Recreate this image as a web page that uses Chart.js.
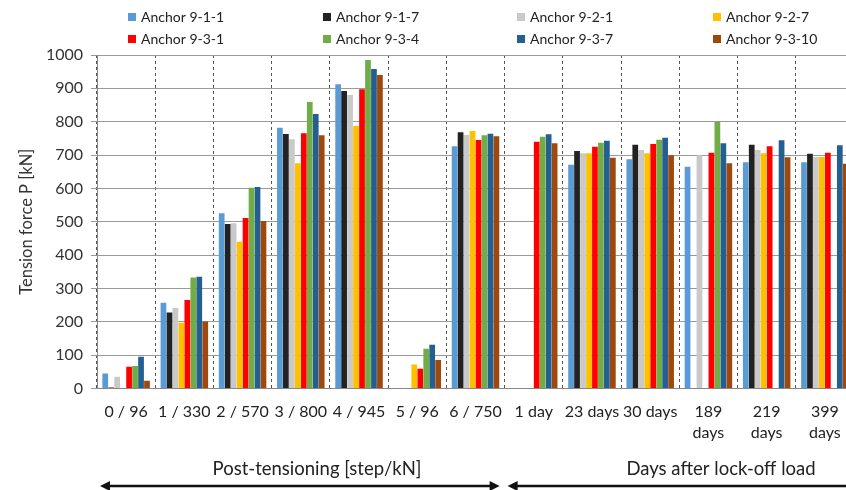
<!DOCTYPE html>
<html>
<head>
<meta charset="utf-8">
<script src="https://cdn.jsdelivr.net/npm/chart.js@4.4.1/dist/chart.umd.min.js"></script>
<style>
  html, body { margin: 0; padding: 0; overflow: hidden; background: #fff; }
  #wrap { width: 880px; height: 490px; }
</style>
</head>
<body>
<div id="wrap"><canvas id="myChart"></canvas></div>
<script>
// categories: post-tensioning steps, then days after lock-off
const categories = ['0 / 96', '1 / 330', '2 / 570', '3 / 800', '4 / 945', '5 / 96', '6 / 750',
  '1 day', '23 days', '30 days', ['189', 'days'], ['219', 'days'], ['399', 'days']];

// tension force P [kN] per anchor (null = no reading)
const anchor911 = [45, 257, 525, 782, 912, null, 726, null, 671, 687, 665, 678, 678];
const anchor917 = [3, 228, 493, 763, 892, null, 768, null, 712, 731, null, 731, 704];
const anchor921 = [35, 241, 495, 747, 880, null, 760, null, 705, 715, 699, 715, 694];
const anchor927 = [null, 197, 440, 675, 787, 72, 772, null, 705, 705, null, 705, 694];
const anchor931 = [65, 265, 511, 765, 897, 59, 745, 740, 725, 733, 707, 726, 707];
const anchor934 = [67, 333, 602, 859, 985, 119, 759, 755, 737, 746, 800, null, null];
const anchor937 = [95, 335, 604, 823, 958, 131, 764, 762, 743, 752, 735, 744, 729];
const anchor9310 = [23, 201, 502, 759, 940, 85, 756, 735, 692, 699, 675, 693, 674];

const seriesNames = ['Anchor 9-1-1', 'Anchor 9-1-7', 'Anchor 9-2-1', 'Anchor 9-2-7',
  'Anchor 9-3-1', 'Anchor 9-3-4', 'Anchor 9-3-7', 'Anchor 9-3-10'];
const seriesData = [anchor911, anchor917, anchor921, anchor927, anchor931, anchor934, anchor937, anchor9310];
const seriesColors = ['#5b9bd5', '#222222', '#c9c9c9', '#ffc000', '#ff0000', '#70ad47', '#255e91', '#9e480e'];

const yTicksMin = 0;
const yTicksMax = 1000;
const yTicksStep = 100;

const FONT = 'Lato, "Open Sans", sans-serif';

// legend in a 4 x 2 grid like the original
const gridLegend = {
  id: 'gridLegend',
  afterDraw(chart) {
    const ctx = chart.ctx;
    const colX = [128, 323, 517, 713];
    const rowY = [17, 39];
    ctx.save();
    ctx.font = '14px ' + FONT;
    ctx.textBaseline = 'middle';
    chart.data.datasets.forEach((ds, i) => {
      const x = colX[i % 4];
      const y = rowY[Math.floor(i / 4)];
      ctx.fillStyle = ds.backgroundColor;
      ctx.fillRect(x, y - 4, 8, 8);
      ctx.fillStyle = '#222';
      ctx.fillText(ds.label, x + 13, y);
    });
    ctx.restore();
  }
};

// phase captions and arrows under the x axis
function arrow(ctx, x1, x2, y, headLeft, headRight) {
  ctx.beginPath();
  ctx.moveTo(x1 + (headLeft ? 6 : 0), y);
  ctx.lineTo(x2 - (headRight ? 6 : 0), y);
  ctx.stroke();
  if (headLeft) {
    ctx.beginPath();
    ctx.moveTo(x1, y); ctx.lineTo(x1 + 10, y - 5); ctx.lineTo(x1 + 10, y + 5); ctx.closePath(); ctx.fill();
  }
  if (headRight) {
    ctx.beginPath();
    ctx.moveTo(x2, y); ctx.lineTo(x2 - 10, y - 5); ctx.lineTo(x2 - 10, y + 5); ctx.closePath(); ctx.fill();
  }
}

const phases = {
  id: 'phases',
  afterDraw(chart) {
    const ctx = chart.ctx;
    const xs = chart.scales.x;
    const split = (xs.getPixelForValue(6) + xs.getPixelForValue(7)) / 2;
    ctx.save();
    ctx.fillStyle = '#222';
    ctx.strokeStyle = '#111';
    ctx.lineWidth = 2.5;
    ctx.font = '18.5px ' + FONT;
    ctx.textAlign = 'center';
    ctx.textBaseline = 'middle';
    ctx.fillText('Post-tensioning [step/kN]', 317, 469);
    ctx.fillText('Days after lock-off load', 721, 469);
    ctx.fillStyle = '#111';
    arrow(ctx, xs.left + 3, split - 5, 486, true, true);
    arrow(ctx, split + 3, chart.width, 486, true, false);
    ctx.restore();
  }
};

const ctx = document.getElementById('myChart').getContext('2d');
const config = {
  type: 'bar',
  data: {
    labels: categories,
    datasets: seriesNames.map((name, i) => ({
      label: name,
      data: seriesData[i],
      backgroundColor: seriesColors[i],
      borderWidth: 0,
      categoryPercentage: 0.82,
      barPercentage: 0.96
    }))
  },
  options: {
    responsive: true,
    maintainAspectRatio: false,
    animation: false,
    layout: { padding: { top: 55, right: 26, bottom: 34, left: 0 } },
    plugins: {
      legend: { display: false },
      tooltip: { enabled: false }
    },
    scales: {
      x: {
        grid: { color: '#555', lineWidth: 1, drawTicks: false },
        border: { display: true, color: '#888', dash: [3, 3] },
        ticks: {
          color: '#222',
          padding: 13,
          maxRotation: 0,
          autoSkip: false,
          font: { family: FONT, size: 16, lineHeight: 1.3 }
        }
      },
      y: {
        min: yTicksMin,
        max: yTicksMax,
        afterFit(scale) { scale.width = 97; },
        grid: { color: '#999', lineWidth: 1, tickLength: 6 },
        border: { display: true, color: '#888' },
        ticks: {
          stepSize: yTicksStep,
          color: '#333',
          padding: 8,
          font: { family: FONT, size: 16 },
          callback: (v) => String(v)
        },
        title: {
          display: true,
          text: 'Tension force P [kN]',
          color: '#333',
          padding: { top: 17, bottom: 0 },
          font: { family: FONT, size: 16.5 }
        }
      }
    }
  },
  plugins: [gridLegend, phases]
};

var myChart = new Chart(ctx, config);
</script>
</body>
</html>
